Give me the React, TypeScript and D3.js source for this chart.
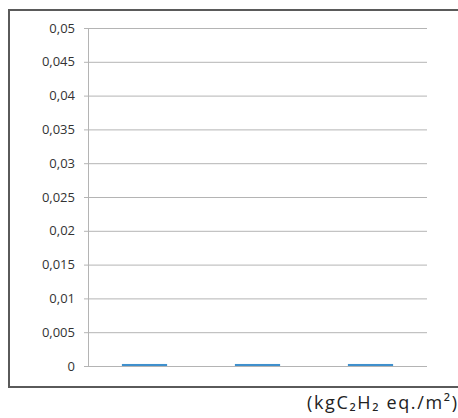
import React from "react";
import * as d3 from "d3";

const categories = ["A", "B", "C"];
const values = [0.0003, 0.0003, 0.0003];
const yTicks = [0, 0.005, 0.01, 0.015, 0.02, 0.025, 0.03, 0.035, 0.04, 0.045, 0.05];
const unitLabel = "(kgC₂H₂ eq./m²)";

export default function App() {
  const W = 458, H = 418;
  const left = 88, right = 427, top = 28, bottom = 366;
  const x = d3.scaleBand<string>().domain(categories).range([left, right]).paddingInner(0.6).paddingOuter(0.3);
  const y = d3.scaleLinear().domain([0, 0.05]).range([bottom, top]);
  const fmt = (v: number) => String(+v.toFixed(3)).replace(".", ",");
  return (
    <svg width={W} height={H} style={{ position: "fixed", left: 0, top: 0, fontFamily: "'Open Sans', sans-serif" }}>
      <rect x={0} y={0} width={W} height={H} fill="#fff" />
      <path d={`M${W + 5},10 L9,10 L9,387 L${W + 5},387`} fill="none" stroke="#5a5a5a" strokeWidth={2} />
      {yTicks.map((t) => (
        <g key={t}>
          <line x1={84} x2={right} y1={y(t) + 0.5} y2={y(t) + 0.5} stroke="#b4b4b4" strokeWidth={1} />
          <text x={75} y={y(t)} dy="0.35em" textAnchor="end" fontSize={13} fill="#333">{fmt(t)}</text>
        </g>
      ))}
      <line x1={left + 0.5} x2={left + 0.5} y1={top} y2={bottom} stroke="#b4b4b4" />
      {categories.map((c, i) => (
        <rect key={c} x={x(c)} y={y(values[i])} width={x.bandwidth()} height={bottom - y(values[i])} fill="#3f90cd" />
      ))}
      <text x={307} y={409} fontSize={18} fill="#222" textLength={150} lengthAdjust="spacing">{unitLabel}</text>
    </svg>
  );
}
